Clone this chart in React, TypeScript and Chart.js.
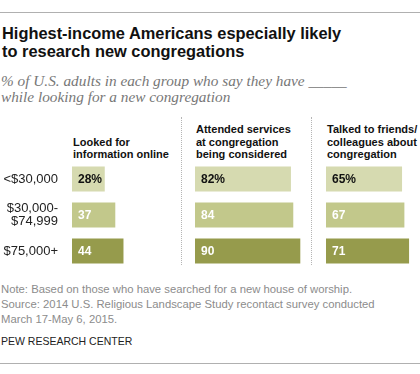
import React, { useEffect, useRef } from 'react';
import { Chart, registerables } from 'chart.js';

Chart.register(...registerables);

// ---- data ----
const incomeGroups: string[][] = [['<$30,000'], ['$30,000-', '$74,999'], ['$75,000+']];
const panelTitles: string[][] = [
  ['Looked for', 'information online'],
  ['Attended services', 'at congregation', 'being considered'],
  ['Talked to friends/', 'colleagues about', 'congregation'],
];
const lookedOnline = [28, 37, 44];
const attendedServices = [82, 84, 90];
const talkedToFriends = [65, 67, 71];

// ---- styles ----
const barColors = ['#d6dab0', '#c2c88b', '#969b4c'];
const valueTextColors = ['#111111', '#ffffff', '#ffffff'];
const SANS = '"Liberation Sans", Arial, sans-serif';

const valueLabelPlugin = {
  id: 'valueLabels',
  afterDatasetsDraw(chart: any) {
    const ctx = chart.ctx;
    const meta = chart.getDatasetMeta(0);
    const data = chart.data.datasets[0].data as number[];
    ctx.save();
    ctx.font = 'bold 12px ' + SANS;
    ctx.textBaseline = 'middle';
    ctx.textAlign = 'left';
    meta.data.forEach((bar: any, i: number) => {
      const v = data[i];
      ctx.fillStyle = valueTextColors[i];
      ctx.fillText(i === 0 ? v + '%' : String(v), bar.base + 6, bar.y + 1);
    });
    ctx.restore();
  },
};

function makeConfig(values: number[], showAxis: boolean): any {
  const yScale: any = {
    display: showAxis,
    grid: { display: false, drawTicks: false },
    border: { display: false },
    ticks: {
      padding: 14,
      color: '#222222',
      font: { family: SANS, size: 13, lineHeight: 1.05 },
    },
  };
  if (showAxis) {
    yScale.afterFit = (s: any) => {
      s.width = 72;
      s.paddingTop = 0;
      s.paddingBottom = 0;
    };
  }
  return {
    type: 'bar',
    data: {
      labels: incomeGroups,
      datasets: [
        {
          data: values,
          backgroundColor: barColors,
          borderWidth: 0,
          barPercentage: 25 / 36,
          categoryPercentage: 1,
        },
      ],
    },
    options: {
      indexAxis: 'y',
      responsive: false,
      maintainAspectRatio: false,
      animation: false,
      layout: { padding: 0 },
      plugins: { legend: { display: false }, tooltip: { enabled: false } },
      scales: {
        x: { display: false, min: 0, max: 100 },
        y: yScale,
      },
    },
    plugins: [valueLabelPlugin],
  };
}

export default function App() {
  const ref1 = useRef<HTMLCanvasElement>(null);
  const ref2 = useRef<HTMLCanvasElement>(null);
  const ref3 = useRef<HTMLCanvasElement>(null);

  useEffect(() => {
    const c1 = new Chart(ref1.current as HTMLCanvasElement, makeConfig(lookedOnline, true));
    const c2 = new Chart(ref2.current as HTMLCanvasElement, makeConfig(attendedServices, false));
    const c3 = new Chart(ref3.current as HTMLCanvasElement, makeConfig(talkedToFriends, false));
    return () => {
      c1.destroy();
      c2.destroy();
      c3.destroy();
    };
  }, []);

  const headerStyle = (left: number, lines: number): React.CSSProperties => ({
    position: 'absolute',
    left,
    top: 158.3 - (lines - 1) * 12.5 - 10.1,
    font: 'bold 11px ' + SANS,
    lineHeight: '12.5px',
    color: '#111',
    whiteSpace: 'nowrap',
  });

  const dotted = (left: number): React.CSSProperties => ({
    position: 'absolute',
    left,
    top: 117,
    height: 148,
    width: 0,
    borderLeft: '1px dotted #b5b5b5',
  });

  return (
    <div
      style={{
        position: 'absolute',
        left: 0,
        top: 0,
        width: 420,
        height: 374,
        overflow: 'hidden',
        background: '#fff',
      }}
    >
      <div style={{ position: 'absolute', left: 0, top: 12, width: 420, height: 1, background: '#b0b0b0' }} />
      <div
        style={{
          position: 'absolute',
          left: 2,
          top: 24.3,
          font: 'bold 16.4px ' + SANS,
          lineHeight: '18px',
          color: '#111',
          whiteSpace: 'nowrap',
        }}
      >
        Highest-income Americans especially likely
        <br />
        to research new congregations
      </div>
      <div
        style={{
          position: 'absolute',
          left: 1,
          top: 73.1,
          font: 'italic 15.3px "Liberation Serif", "Times New Roman", serif',
          lineHeight: '15.7px',
          color: '#777',
          whiteSpace: 'nowrap',
        }}
      >
        % of U.S. adults in each group who say they have _____
        <br />
        while looking for a new congregation
      </div>

      {panelTitles.map((lines, i) => (
        <div key={i} style={headerStyle([73, 196, 327][i], lines.length)}>
          {lines.map((l, j) => (
            <div key={j}>{l}</div>
          ))}
        </div>
      ))}

      <div style={dotted(181)} />
      <div style={dotted(311)} />

      <canvas ref={ref1} width={189} height={108} style={{ position: 'absolute', left: 0, top: 161 }} />
      <canvas ref={ref2} width={117} height={108} style={{ position: 'absolute', left: 195, top: 161 }} />
      <canvas ref={ref3} width={117} height={108} style={{ position: 'absolute', left: 326, top: 161 }} />

      <div
        style={{
          position: 'absolute',
          left: 1,
          top: 281.9,
          font: '11.3px ' + SANS,
          lineHeight: '15px',
          color: '#8c8c8c',
          whiteSpace: 'nowrap',
        }}
      >
        Note: Based on those who have searched for a new house of worship.
        <br />
        Source: 2014 U.S. Religious Landscape Study recontact survey conducted
        <br />
        March 17-May 6, 2015.
      </div>
      <div
        style={{
          position: 'absolute',
          left: 1,
          top: 335.4,
          font: '10.5px ' + SANS,
          lineHeight: '12px',
          color: '#222',
          whiteSpace: 'nowrap',
        }}
      >
        PEW RESEARCH CENTER
      </div>
      <div style={{ position: 'absolute', left: 0, top: 363, width: 420, height: 1, background: '#b0b0b0' }} />
    </div>
  );
}
